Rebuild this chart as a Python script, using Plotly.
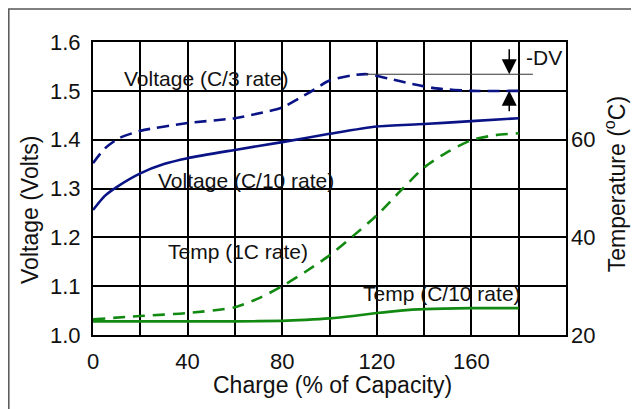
import plotly.graph_objects as go

# ---- data ----
x_v_c3 = [0, 5, 11, 20, 40, 60, 73, 80, 92, 100, 110, 116, 125, 135, 145, 160, 180]
v_c3 = [1.352, 1.382, 1.403, 1.418, 1.434, 1.444, 1.457, 1.466, 1.498, 1.521, 1.532, 1.534,
        1.525, 1.514, 1.505, 1.500, 1.500]

x_v_c10 = [0, 5, 10, 20, 30, 40, 60, 80, 100, 120, 140, 160, 180]
v_c10 = [1.256, 1.285, 1.303, 1.331, 1.350, 1.362, 1.379, 1.395, 1.412, 1.427, 1.432, 1.438, 1.444]

x_t_1c = [0, 20, 40, 60, 70, 80, 90, 100, 110, 120, 130, 140, 150, 160, 170, 180]
t_1c = [23.2, 23.9, 24.5, 25.7, 27.5, 30.0, 33.0, 36.3, 40.3, 44.5, 49.5, 54.3, 57.5, 59.9, 60.9, 61.3]

x_t_c10 = [0, 20, 40, 60, 80, 90, 100, 110, 120, 130, 140, 160, 180]
t_c10 = [22.8, 22.8, 22.8, 22.8, 22.9, 23.1, 23.4, 23.9, 24.5, 25.0, 25.3, 25.5, 25.5]

x_ticks = [0, 20, 40, 60, 80, 100, 120, 140, 160, 180, 200]
x_ticktext = ["0", "", "40", "", "80", "", "120", "", "160", "", ""]
v_ticks = [1.0, 1.1, 1.2, 1.3, 1.4, 1.5, 1.6]
t_ticks = [20, 40, 60]

dv_x = 176          # position of the -DV arrows
dv_peak = 1.534     # peak voltage
dv_end = 1.500      # final voltage

NAVY = "#0a1386"
GREEN = "#128a12"
FONT = "Liberation Sans, Arial, sans-serif"

fig = go.Figure()
fig.add_trace(go.Scatter(x=x_v_c3, y=v_c3, mode="lines",
                         line=dict(color=NAVY, width=2.6, dash="12px,7px", shape="spline", smoothing=0.7)))
fig.add_trace(go.Scatter(x=x_v_c10, y=v_c10, mode="lines",
                         line=dict(color=NAVY, width=2.6, shape="spline", smoothing=0.7)))
fig.add_trace(go.Scatter(x=x_t_1c, y=t_1c, mode="lines", yaxis="y2",
                         line=dict(color=GREEN, width=2.6, dash="12px,8px", shape="spline", smoothing=0.7)))
fig.add_trace(go.Scatter(x=x_t_c10, y=t_c10, mode="lines", yaxis="y2",
                         line=dict(color=GREEN, width=2.6, shape="spline", smoothing=0.7)))

# thin reference line at the peak
fig.add_trace(go.Scatter(x=[115, 186], y=[dv_peak, dv_peak], mode="lines",
                         line=dict(color="#333333", width=1.2), hoverinfo="skip"))

lab = dict(size=21, color="#111")
annotations = [
    dict(x=47.8, y=1.526, text="Voltage (C/3 rate)", showarrow=False, xref="x", yref="y", font=lab),
    dict(x=64.5, y=1.317, text="Voltage (C/10 rate)", showarrow=False, xref="x", yref="y", font=lab),
    dict(x=61.5, y=1.170, text="Temp (1C rate)", showarrow=False, xref="x", yref="y", font=lab),
    dict(x=147.4, y=1.086, text="Temp (C/10 rate)", showarrow=False, xref="x", yref="y", font=lab),
    dict(x=190.5, y=1.569, text="-DV", showarrow=False, xref="x", yref="y", font=lab),
    # -DV arrows
    dict(x=dv_x, y=dv_peak, ax=dv_x, ay=1.588, xref="x", yref="y", axref="x", ayref="y",
         text="", showarrow=True, arrowhead=2, arrowsize=2, arrowwidth=1.5, arrowcolor="#000", standoff=0),
    dict(x=dv_x, y=dv_end, ax=dv_x, ay=1.455, xref="x", yref="y", axref="x", ayref="y",
         text="", showarrow=True, arrowhead=2, arrowsize=2, arrowwidth=1.5, arrowcolor="#000", standoff=0),
    # axis titles
    dict(x=-0.133, y=0.427, xref="paper", yref="paper", text="Voltage (Volts)", textangle=-90,
         xanchor="center", yanchor="middle", showarrow=False, font=dict(size=23, color="#111")),
    dict(x=1.104, y=0.515, xref="paper", yref="paper", text="Temperature (<sup>o</sup>C)", textangle=-90,
         xanchor="center", yanchor="middle", showarrow=False, font=dict(size=23, color="#111")),
    dict(x=0.507, y=-0.172, xref="paper", yref="paper", text="Charge (% of Capacity)",
         xanchor="center", yanchor="middle", showarrow=False, font=dict(size=23, color="#111")),
]

fig.update_layout(
    width=631, height=401,
    margin=dict(l=85, r=73, t=34, b=74, autoexpand=False),
    paper_bgcolor="white", plot_bgcolor="white",
    showlegend=False,
    font=dict(family=FONT, color="#111"),
    annotations=annotations,
    shapes=[dict(type="rect", xref="paper", yref="paper", x0=-0.178, x1=1.6, y0=-0.6, y1=1.113,
                 line=dict(color="#555555", width=1.5), layer="below")],
    xaxis=dict(range=[0, 200], tickvals=x_ticks, ticktext=x_ticktext, showgrid=True,
               gridcolor="#000", gridwidth=2, zeroline=False, showline=True, mirror=True,
               linecolor="#000", linewidth=2, ticks="", tickfont=dict(size=22),
               ticklabelstandoff=6, automargin=False),
    yaxis=dict(range=[1.0, 1.6], tickvals=v_ticks, tickformat=".1f", showgrid=True,
               gridcolor="#000", gridwidth=2, zeroline=False, showline=True, mirror=True,
               linecolor="#000", linewidth=2, ticks="", tickfont=dict(size=22),
               ticklabelstandoff=6, automargin=False),
    yaxis2=dict(range=[20, 80], tickvals=t_ticks, overlaying="y", side="right", showgrid=False,
                zeroline=False, showline=False, ticks="", tickfont=dict(size=22),
                ticklabelstandoff=4, automargin=False),
)

fig.write_html("out.html")
